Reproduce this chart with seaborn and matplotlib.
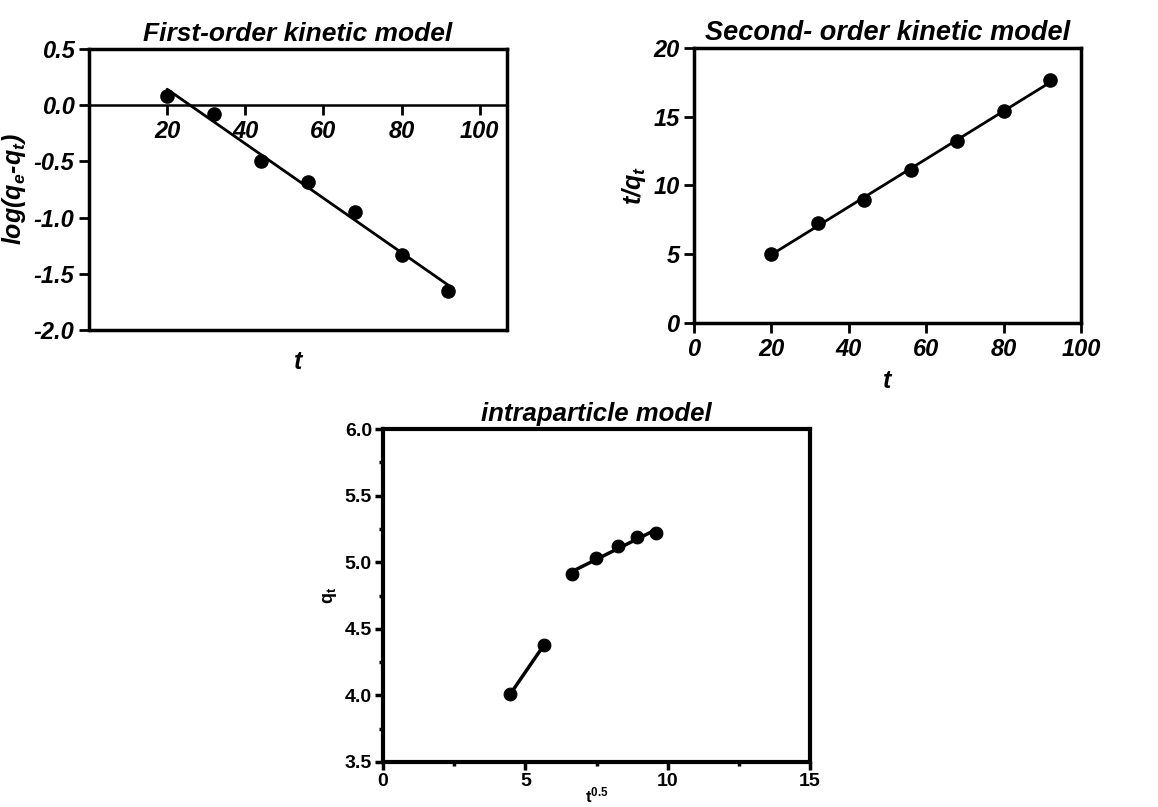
import numpy as np
import pandas as pd
import matplotlib
matplotlib.use("Agg")
import matplotlib.pyplot as plt
import seaborn as sns
from matplotlib.ticker import MultipleLocator

sns.set_theme(style="white")
plt.rcParams['font.family'] = ['Liberation Sans', 'DejaVu Sans']
plt.rcParams['text.color'] = 'black'
plt.rcParams['axes.labelcolor'] = 'black'
plt.rcParams['xtick.color'] = 'black'
plt.rcParams['ytick.color'] = 'black'
plt.rcParams['mathtext.default'] = 'regular'

# ---- data ----
t = [20, 32, 44, 56, 68, 80, 92]
log_qe_qt = [0.08, -0.08, -0.50, -0.68, -0.95, -1.33, -1.65]
t_over_qt = [5.0, 7.3, 8.95, 11.1, 13.25, 15.4, 17.65]
sqrt_t = [4.47, 5.66, 6.63, 7.48, 8.25, 8.94, 9.59]
qt = [4.01, 4.38, 4.91, 5.03, 5.12, 5.19, 5.22]

df = pd.DataFrame({"t": t, "log": log_qe_qt, "tq": t_over_qt,
                   "sqrt_t": sqrt_t, "qt": qt})

fig = plt.figure(figsize=(11.58, 8.07), dpi=100)
W, H = 1158, 807
def axpos(l, r, top, b):
    return [l / W, 1 - b / H, (r - l) / W, (b - top) / H]

ax1 = fig.add_axes(axpos(89, 507, 49, 330))
ax2 = fig.add_axes(axpos(694, 1081, 48, 323))
ax3 = fig.add_axes(axpos(383, 810, 429, 762))

bi = dict(fontweight='bold', fontstyle='italic', color='black')
line_kw = dict(color='black', lw=2)
scat_kw = dict(color='black', s=90, zorder=3, edgecolor='black', alpha=1)

# ---- Panel 1 ----
sns.regplot(data=df, x="t", y="log", ax=ax1, ci=None, scatter_kws=scat_kw,
            line_kws=line_kw)
ax1.set_xlim(0, 107)
ax1.set_ylim(-2.0, 0.5)
ax1.spines['bottom'].set_position(('data', 0))
ax1.spines['bottom'].set_linewidth(1.8)
for s in ['left', 'top', 'right']:
    ax1.spines[s].set_linewidth(2.5)
    ax1.spines[s].set_color('black')
ax1.spines['bottom'].set_color('black')
ax1.axhline(-2.0, color='black', lw=2.5, clip_on=False, zorder=4)
ax1.set_xticks([20, 40, 60, 80, 100])
ax1.set_yticks([-2.0, -1.5, -1.0, -0.5, 0.0, 0.5])
ax1.set_yticklabels(['-2.0', '-1.5', '-1.0', '-0.5', '0.0', '0.5'])
ax1.tick_params(axis='both', direction='out', length=7, width=2, colors='black',
                labelsize=17, bottom=True, left=True)
for lab in ax1.get_xticklabels() + ax1.get_yticklabels():
    lab.set_fontweight('bold'); lab.set_fontstyle('italic')
ax1.set_xlabel('t', fontsize=18, **bi)
ax1.xaxis.set_label_coords(0.5, -0.07)
ax1.set_ylabel(r'log(q$_e$-q$_t$)', fontsize=18, **bi)
ax1.set_title('First-order kinetic model', fontsize=19, pad=6, **bi)

# ---- Panel 2 ----
sns.regplot(data=df, x="t", y="tq", ax=ax2, ci=None, scatter_kws=scat_kw,
            line_kws=line_kw)
ax2.set_xlim(0, 100)
ax2.set_ylim(0, 20)
for s in ax2.spines.values():
    s.set_linewidth(2.5); s.set_color('black')
ax2.set_xticks([0, 20, 40, 60, 80, 100])
ax2.set_yticks([0, 5, 10, 15, 20])
ax2.tick_params(axis='both', direction='out', length=7, width=2, colors='black',
                labelsize=17, bottom=True, left=True)
for lab in ax2.get_xticklabels() + ax2.get_yticklabels():
    lab.set_fontweight('bold'); lab.set_fontstyle('italic')
ax2.set_xlabel('t', fontsize=18, labelpad=6, **bi)
ax2.set_ylabel(r't/q$_t$', fontsize=18, **bi)
ax2.set_title('Second- order kinetic model', fontsize=19.5, pad=6, **bi)

# ---- Panel 3 ----
seg1 = df.iloc[:2]
seg2 = df.iloc[2:]
sns.lineplot(data=seg1, x="sqrt_t", y="qt", ax=ax3, color='black', lw=2.5)
sns.regplot(data=seg2, x="sqrt_t", y="qt", ax=ax3, ci=None,
            scatter=False, line_kws=dict(color='black', lw=2.5))
sns.scatterplot(data=df, x="sqrt_t", y="qt", ax=ax3, color='black', s=85,
                zorder=3, edgecolor='black')
ax3.set_xlim(0, 15)
ax3.set_ylim(3.5, 6.0)
for s in ax3.spines.values():
    s.set_linewidth(3); s.set_color('black')
ax3.set_xticks([0, 5, 10, 15])
ax3.set_yticks([3.5, 4.0, 4.5, 5.0, 5.5, 6.0])
ax3.set_yticklabels(['3.5', '4.0', '4.5', '5.0', '5.5', '6.0'])
ax3.xaxis.set_minor_locator(MultipleLocator(2.5))
ax3.yaxis.set_minor_locator(MultipleLocator(0.25))
ax3.tick_params(axis='both', which='major', direction='out', length=6, width=2.5,
                colors='black', labelsize=14, bottom=True, left=True, pad=2)
ax3.tick_params(axis='both', which='minor', direction='out', length=3, width=2.5,
                colors='black', bottom=True, left=True)
for lab in ax3.get_xticklabels() + ax3.get_yticklabels():
    lab.set_fontweight('bold')
ax3.set_xlabel(r'$t^{0.5}$', fontsize=12, fontweight='bold', labelpad=-3,
               color='black')
ax3.set_ylabel(r'$q_t$', fontsize=13, fontweight='bold', color='black')
ax3.set_title('intraparticle model', fontsize=18.5, pad=6, **bi)

fig.savefig('out.png', dpi=100)
